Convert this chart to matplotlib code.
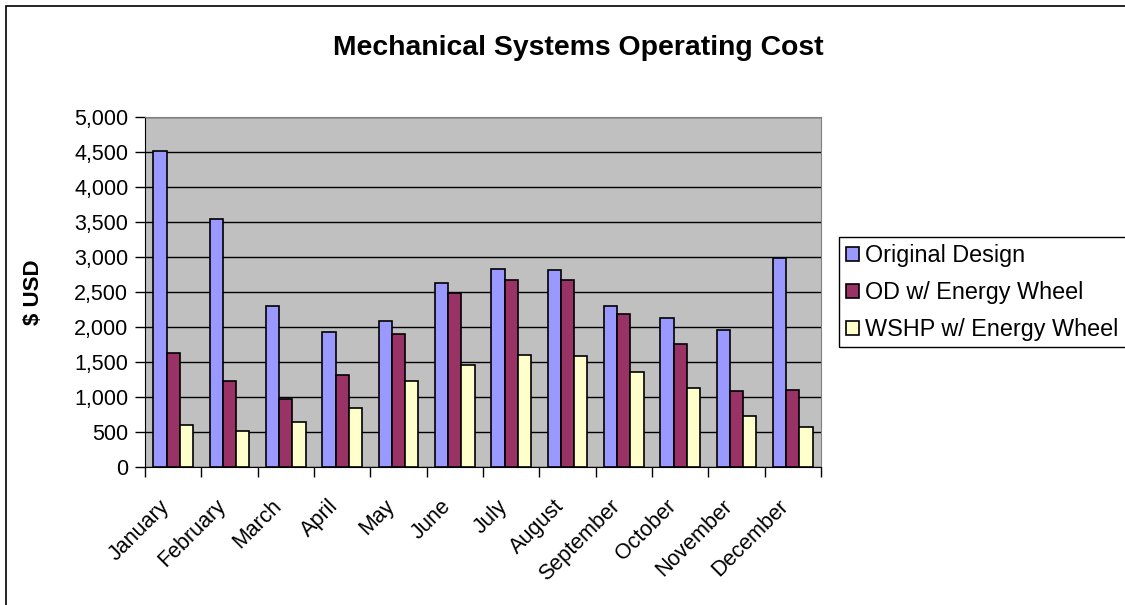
import numpy as np
import matplotlib.pyplot as plt
from matplotlib.patches import Rectangle
from matplotlib.ticker import FuncFormatter
from matplotlib.transforms import ScaledTranslation

# Monthly operating cost, USD
months = ['January', 'February', 'March', 'April', 'May', 'June', 'July',
          'August', 'September', 'October', 'November', 'December']
original_design = [4520, 3545, 2305, 1935, 2085, 2635, 2835, 2815, 2305, 2135, 1955, 2990]
od_energy_wheel = [1625, 1225, 975, 1310, 1905, 2485, 2665, 2665, 2185, 1755, 1080, 1100]
wshp_energy_wheel = [605, 520, 650, 850, 1225, 1455, 1600, 1585, 1355, 1130, 730, 575]

series = [
    ('Original Design', original_design, '#9999FF'),
    ('OD w/ Energy Wheel', od_energy_wheel, '#993366'),
    ('WSHP w/ Energy Wheel', wshp_energy_wheel, '#FFFFCC'),
]

plt.rcParams['font.family'] = ['Liberation Sans', 'DejaVu Sans']

W, H = 1125, 605
fig = plt.figure(figsize=(W / 100, H / 100), dpi=100)

# plot area in pixel coordinates
left, right, top, bottom = 145, 821, 117, 467
ax = fig.add_axes([left / W, 1 - bottom / H, (right - left) / W, (bottom - top) / H])
ax.set_facecolor('#C0C0C0')

x = np.arange(len(months))
width = 0.233
for i, (name, vals, color) in enumerate(series):
    ax.bar(x + (i - 1) * width, vals, width, color=color, edgecolor='black',
           linewidth=1.2, label=name, zorder=3)

ax.set_xlim(-0.5, len(months) - 0.5)
ax.set_ylim(0, 5000)
ax.set_yticks(np.arange(0, 5001, 500))
ax.yaxis.set_major_formatter(FuncFormatter(lambda v, p: f'{int(v):,}'))
ax.yaxis.grid(True, color='black', linewidth=1, zorder=1)
ax.set_axisbelow(True)

# category boundaries as tick marks, labels at the centres
ax.set_xticks(np.arange(-0.5, len(months), 1))
ax.set_xticklabels([])
ax.set_xticks(x, minor=True)
ax.set_xticklabels(months, minor=True, rotation=45, ha='right', va='center',
                   rotation_mode='anchor', fontsize=15.5)
ax.tick_params(axis='x', which='minor', length=0, pad=26)
ax.tick_params(axis='x', which='major', length=7, width=1, direction='out')
ax.tick_params(axis='y', length=7, width=1, labelsize=15.5, pad=5)
shift = ScaledTranslation(-7 / 100, 0, fig.dpi_scale_trans)
for lbl in ax.get_xticklabels(minor=True):
    lbl.set_transform(lbl.get_transform() + shift)

for side in ['top', 'right']:
    ax.spines[side].set_color('#808080')
for side in ['left', 'bottom']:
    ax.spines[side].set_color('black')

ax.set_ylabel('$ USD', fontsize=16, fontweight='bold')
ax.yaxis.set_label_coords((44 - left) / (right - left), 0.5)
fig.text(578 / W, 1 - 48 / H, 'Mechanical Systems Operating Cost',
         ha='center', va='center', fontsize=20.4, fontweight='bold')

# legend entries without frame; box drawn separately so it runs past the edge
leg = fig.legend(loc='upper left', bbox_to_anchor=(839 / W, 1 - 237 / H),
                 fontsize=16.8, frameon=False,
                 handlelength=0.55, handleheight=0.55, handletextpad=0.25,
                 borderpad=0.3, labelspacing=0.6, borderaxespad=0)
fig.patches.append(Rectangle((839 / W, 1 - 347 / H), 0.3, 110 / H,
                             transform=fig.transFigure, fill=False,
                             edgecolor='black', linewidth=1))

# outer chart border
fig.patches.append(Rectangle((6 / W, -0.05), 1.2, 1 - 6 / H + 0.05,
                             transform=fig.transFigure, fill=False,
                             edgecolor='black', linewidth=1.2))

fig.savefig('out.png', dpi=100)
